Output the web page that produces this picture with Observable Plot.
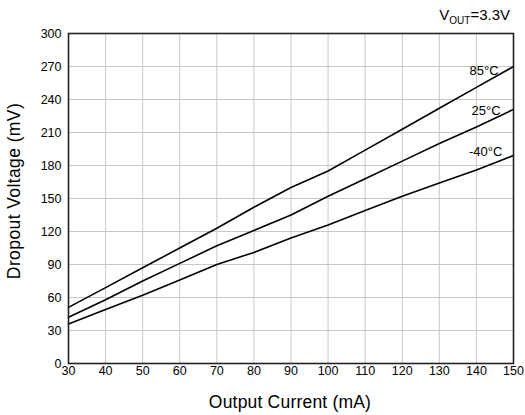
<!DOCTYPE html>
<html>
<head>
<meta charset="utf-8">
<script src="https://cdn.jsdelivr.net/npm/d3@7"></script>
<script src="https://cdn.jsdelivr.net/npm/@observablehq/plot@0.6"></script>
<style>
  html, body { margin: 0; padding: 0; background: #fff; }
  #chart svg { display: block; }
</style>
</head>
<body>
<div id="chart"></div>
<script>
// Data
const currents = [30, 40, 50, 60, 70, 80, 90, 100, 110, 120, 130, 140, 150]; // mA
const dropout85 = [51, 69, 87, 105, 123, 142, 160, 175, 194, 213, 232, 251, 270]; // mV
const dropout25 = [42, 58, 75, 91, 107, 121, 135, 152, 168, 184, 200, 215, 231];
const dropoutM40 = [36, 49, 62, 76, 90, 101, 114, 126, 139, 152, 164, 176, 189];

const seriesNames = ["85°C", "25°C", "-40°C"];
const seriesValues = [dropout85, dropout25, dropoutM40];

// Curve label anchor points (data coordinates)
const labelX = [146, 146.5, 147];
const labelY = [266.5, 229.5, 192.5];

const xTicks = [30, 40, 50, 60, 70, 80, 90, 100, 110, 120, 130, 140, 150];
const yTicks = [0, 30, 60, 90, 120, 150, 180, 210, 240, 270, 300];

const xTitle = "Output Current (mA)";
const yTitle = "Dropout Voltage (mV)";

const rows = [];
seriesNames.forEach((name, i) => {
  currents.forEach((c, j) => rows.push({series: name, current: c, mv: seriesValues[i][j]}));
});
const labels = seriesNames.map((name, i) => ({text: name, x: labelX[i], y: labelY[i]}));

const W = 525, H = 415;
const mL = 68, mR = 12, mT = 33, mB = 52;

const chart = Plot.plot({
  width: W,
  height: H,
  marginLeft: mL,
  marginRight: mR,
  marginTop: mT,
  marginBottom: mB,
  style: {fontFamily: "'Liberation Sans', Arial, sans-serif", fontSize: "12.5px", color: "#000", background: "#fff"},
  x: {domain: [30, 150]},
  y: {domain: [0, 300]},
  marks: [
    Plot.gridX(xTicks, {stroke: "#c8c8c8", strokeOpacity: 1, strokeWidth: 1}),
    Plot.gridY(yTicks, {stroke: "#c8c8c8", strokeOpacity: 1, strokeWidth: 1}),
    Plot.line(rows, {x: "current", y: "mv", z: "series", stroke: "#000", strokeWidth: 1.6}),
    Plot.text(labels, {x: "x", y: "y", text: "text", textAnchor: "end", fontSize: 13, fill: "#000"}),
    Plot.frame({stroke: "#222", strokeWidth: 1.6}),
    Plot.axisX(xTicks, {tickSize: 0, tickPadding: 3, label: null, fontSize: 12.5}),
    Plot.axisY(yTicks, {tickSize: 0, tickPadding: 7, label: null, fontSize: 12.5})
  ]
});

document.getElementById("chart").appendChild(chart);

const svg = d3.select(chart);
// Axis titles
svg.append("text")
  .attr("x", 290)
  .attr("y", 408)
  .attr("text-anchor", "middle")
  .attr("font-size", 17.5)
  .attr("letter-spacing", "0.2px")
  .attr("fill", "#000")
  .text(xTitle);

svg.append("text")
  .attr("transform", "translate(20,191) rotate(-90)")
  .attr("text-anchor", "middle")
  .attr("font-size", 17.5)
  .attr("letter-spacing", "0.4px")
  .attr("fill", "#000")
  .text(yTitle);

// Condition note top right
const note = svg.append("text")
  .attr("x", 510)
  .attr("y", 20)
  .attr("text-anchor", "end")
  .attr("font-size", 15)
  .attr("fill", "#000");
note.append("tspan").text("V");
note.append("tspan").attr("font-size", 10).attr("dy", 4).text("OUT");
note.append("tspan").attr("dy", -4).text("=3.3V");
</script>
</body>
</html>
